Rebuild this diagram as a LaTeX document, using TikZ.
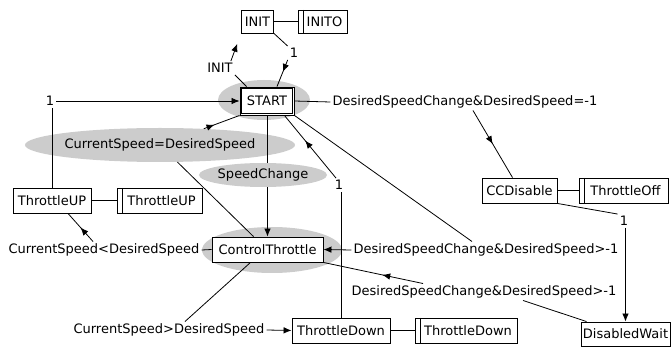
\documentclass[tikz,border=0pt]{standalone}
\usepackage{fontspec}
\setmainfont{DejaVu Sans}
\usetikzlibrary{arrows.meta,shapes.geometric,decorations.markings}
\begin{document}
\begin{tikzpicture}[x=1pt,y=-1pt,
 every node/.style={font=\fontsize{13}{15}\selectfont, inner sep=1.5pt},
 box/.style={draw, line width=0.9pt, fill=white, minimum height=25pt, inner sep=1pt},
 act/.style={box, path picture={\draw[line width=0.9pt] ([xshift=5pt]path picture bounding box.north west) -- ([xshift=5pt]path picture bounding box.south west);}},
 bg/.style={ellipse, fill=gray!40, inner sep=0pt},
 lbl/.style={inner sep=2pt},
 conn/.style={line width=0.8pt},
 arr/.style={conn, -{Latex[length=8pt,width=6.5pt]}},
 midarr/.style={conn, postaction={decorate}, decoration={markings, mark=at position #1 with {\arrow{Latex[length=8pt,width=6.5pt]}}}},
]
\useasboundingbox (0,0) rectangle (672,347);
% backgrounds
\node[bg, minimum width=92pt, minimum height=40pt] (startbg) at (264,100) {};
\node[bg, minimum width=140pt, minimum height=46pt] (ctbg) at (272,250) {};
\node[bg, minimum width=206pt, minimum height=34pt] (cseq) at (160,145) {CurrentSpeed=DesiredSpeed};
\node[bg, minimum width=109pt, minimum height=24pt] (spch) at (263,175) {SpeedChange};
% steps
\node[box, minimum width=32pt, minimum height=23pt] (init) at (257.5,21.5) {INIT};
\node[act, minimum width=49pt, minimum height=23pt] (inito) at (322.5,21.5) {\hspace{4pt}INITO};
\node[box, minimum width=54pt, minimum height=28pt] (start) at (267,101) {START};
\draw[line width=0.9pt] ([shift={(2.2pt,-2.2pt)}]start.north west) rectangle ([shift={(-2.2pt,2.2pt)}]start.south east);
\node[box, minimum width=78pt] (tup) at (52,200.5) {ThrottleUP};
\node[act, minimum width=85pt] (tupa) at (159.5,200.5) {\hspace{4pt}ThrottleUP};
\node[box, minimum width=111pt] (ct) at (267.5,249.5) {ControlThrottle};
\node[box, minimum width=98pt] (tdown) at (341,330.5) {ThrottleDown};
\node[act, minimum width=102pt] (tdowna) at (466,330.5) {\hspace{4pt}ThrottleDown};
\node[box, minimum width=75pt] (ccd) at (519.5,190.5) {CCDisable};
\node[act, minimum width=89pt] (ccda) at (623.5,190.5) {\hspace{4pt}ThrottleOff};
\node[box, minimum width=89pt, minimum height=24pt] (dw) at (625.5,334) {DisabledWait};
% labels
\node[lbl] (lblinit) at (220,68) {INIT};
\node[lbl] (lbl1a) at (294,53) {1};
\node[lbl] (lbl1b) at (50,101) {1};
\node[lbl] (cslt) at (104,250) {CurrentSpeed<DesiredSpeed};
\node[lbl] (csgt) at (169,330) {CurrentSpeed>DesiredSpeed};
\node[lbl] (lbl1c) at (339,185) {1};
\node[lbl] (lblA0) at (465,102) {DesiredSpeedChange\&DesiredSpeed=-1};
\node[lbl] (lbl1d) at (624,221) {1};
\node[lbl] (lblA) at (486,250) {DesiredSpeedChange\&DesiredSpeed>-1};
\node[lbl] (lblB) at (484,292) {DesiredSpeedChange\&DesiredSpeed>-1};
% action links
\draw[conn] (init.east) -- (inito.west);
\draw[conn] (tup.east) -- (tupa.west);
\draw[conn] (ccd.east) -- (ccda.west);
\draw[conn] (tdown.east) -- (tdowna.west);
% transitions
\draw[conn] ([xshift=7pt]start.north west) -- (lblinit.south east);
\draw[arr, shorten >=11pt] ([xshift=-4pt]lblinit.north east) -- (init.south west);
\draw[conn] (init.south east) -- (lbl1a.north west);
\draw[midarr=0.45] (lbl1a.south west) -- ([xshift=10pt]start.north);
\draw[conn] (tup.north) -- (tup.north |- lbl1b.south);
\draw[arr] (lbl1b.east) -- (start.west);
\draw[conn] ([xshift=-14pt]ct.north) -- (cseq);
\draw[midarr=0.3] (cseq) -- (start.south west);
\draw[conn] (start.south) -- (start.south |- spch.north);
\draw[arr] (ct.north |- spch.south) -- (ct.north);
\draw[conn] (ct.west) -- (cslt.east);
\draw[midarr=0.5] ([xshift=-11pt]cslt.north) -- ([xshift=16pt]tup.south);
\draw[conn] ([xshift=-17pt]ct.south) -- ([xshift=16pt]csgt.north);
\draw[arr] (csgt.east) -- (tdown.west);
\draw[conn] (tdown.north) -- (tdown.north |- lbl1c.south);
\draw[midarr=0.6] ([xshift=-3pt]lbl1c.north) -- ([xshift=-10pt]start.south east);
\draw[conn] (start.east) -- (lblA0.west);
\draw[midarr=0.5] ([xshift=8pt]lblA0.south) -- ([xshift=-7pt]ccd.north);
\draw[conn] (ccd.south east) -- (lbl1d.north west);
\draw[arr] (lbl1d.south -| dw.north) -- (dw.north);
\draw[conn] (start.south east) -- ([xshift=-14pt]lblA.north);
\draw[arr] (lblA.west) -- (ct.east);
\draw[conn] ([xshift=6pt]dw.north west) -- ([xshift=39pt]lblB.south);
\draw[midarr=0.41] ([xshift=-61pt]lblB.north) -- (ct.south east);
\end{tikzpicture}
\end{document}
